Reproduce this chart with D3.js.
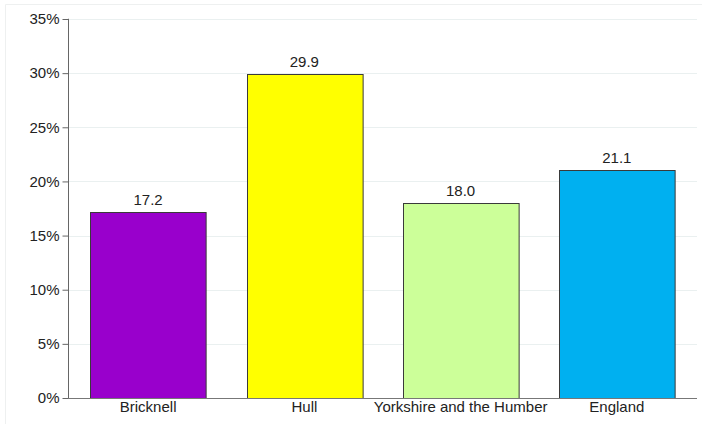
<!DOCTYPE html>
<html>
<head>
<meta charset="utf-8">
<script src="https://cdn.jsdelivr.net/npm/d3@7"></script>
<style>
  html, body { margin: 0; padding: 0; background: #fff; }
  svg { display: block; font-family: "Liberation Sans", Arial, sans-serif; }
</style>
</head>
<body>
<svg id="chart" width="702" height="424"></svg>
<script>
const categories = ["Bricknell", "Hull", "Yorkshire and the Humber", "England"];
const values = [17.2, 29.9, 18.0, 21.1];
const colors = ["#9900cc", "#ffff00", "#ccff99", "#00b0f0"];
const yTicks = [0, 5, 10, 15, 20, 25, 30, 35];

const svg = d3.select("#chart");
const W = 702, H = 424;

// faint frame
svg.append("path")
  .attr("d", `M5.5,${H} V4.5 H${W}`)
  .attr("fill", "none")
  .attr("stroke", "#eef0f0")
  .attr("stroke-width", 1);

const x0 = 68, x1 = 697, yTop = 19, yBot = 398;

const x = d3.scaleBand().domain(categories).range([70, 695]).paddingInner(0.26).paddingOuter(0.13);
const y = d3.scaleLinear().domain([0, 35]).range([yBot, yTop]);

// gridlines
svg.append("g").selectAll("line").data(yTicks.filter(d => d > 0)).join("line")
  .attr("x1", x0).attr("x2", x1)
  .attr("y1", d => Math.round(y(d)) + 0.5).attr("y2", d => Math.round(y(d)) + 0.5)
  .attr("stroke", "#eaf0f0").attr("stroke-width", 1);

// bars
svg.append("g").selectAll("rect").data(categories).join("rect")
  .attr("x", d => Math.round(x(d)) + 0.5)
  .attr("y", (d, i) => Math.round(y(values[i])) + 0.5)
  .attr("width", x.bandwidth())
  .attr("height", (d, i) => Math.round(y(0)) - Math.round(y(values[i])))
  .attr("fill", (d, i) => colors[i])
  .attr("stroke", "#3a3a3a").attr("stroke-width", 1);

// value labels
svg.append("g").selectAll("text").data(categories).join("text")
  .attr("x", d => x(d) + x.bandwidth() / 2)
  .attr("y", (d, i) => y(values[i]) - 7)
  .attr("text-anchor", "middle")
  .attr("font-size", 15)
  .attr("fill", "#222")
  .text((d, i) => values[i].toFixed(1));

// y axis
const yAxis = d3.axisLeft(y).tickValues(yTicks).tickFormat(d => d + "%").tickSize(6).tickPadding(3);
const gy = svg.append("g").attr("transform", `translate(${x0 + 0.5},0)`).call(yAxis);
gy.select(".domain").attr("stroke", "#666").attr("d", `M-0.5,${yTop}H0V${yBot}`);
gy.selectAll(".tick line").attr("stroke", "#666");
gy.selectAll(".tick text").attr("font-size", 15).attr("fill", "#222")
  .attr("font-family", "'Liberation Sans', Arial, sans-serif");

// x axis
const xAxis = d3.axisBottom(x).tickSize(0).tickPadding(3);
const gx = svg.append("g").attr("transform", `translate(0,${yBot + 0.5})`).call(xAxis);
gx.select(".domain").attr("stroke", "#777").attr("d", `M${x0},0H${x1}`);
gx.selectAll(".tick text").attr("font-size", 15).attr("fill", "#222")
  .attr("font-family", "'Liberation Sans', Arial, sans-serif");
</script>
</body>
</html>
